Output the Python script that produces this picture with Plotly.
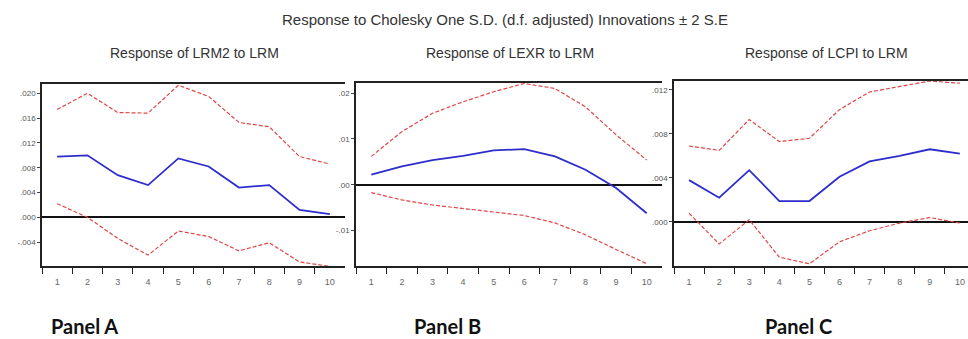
import plotly.graph_objects as go

# Impulse-response horizons
periods = list(range(1, 11))

# Response of LRM2 to LRM
lrm2_resp = [0.0098, 0.0100, 0.0068, 0.0052, 0.0095, 0.0082, 0.0048, 0.0052, 0.0012, 0.0005]
lrm2_upper = [0.0174, 0.0200, 0.0169, 0.0168, 0.0213, 0.0195, 0.0153, 0.0146, 0.0098, 0.0086]
lrm2_lower = [0.0022, 0.0000, -0.0034, -0.0061, -0.0022, -0.0031, -0.0054, -0.0041, -0.0072, -0.0079]

# Response of LEXR to LRM
lexr_resp = [0.0022, 0.0040, 0.0054, 0.0063, 0.0075, 0.0078, 0.0062, 0.0033, -0.0007, -0.0062]
lexr_upper = [0.0062, 0.0116, 0.0156, 0.0181, 0.0203, 0.0221, 0.0210, 0.0170, 0.0109, 0.0054]
lexr_lower = [-0.0017, -0.0033, -0.0044, -0.0052, -0.0060, -0.0067, -0.0083, -0.0109, -0.0141, -0.0172]

# Response of LCPI to LRM
lcpi_resp = [0.0038, 0.0022, 0.0047, 0.0019, 0.0019, 0.0041, 0.0055, 0.0060, 0.0066, 0.0062]
lcpi_upper = [0.0069, 0.0065, 0.0093, 0.0073, 0.0076, 0.0102, 0.0118, 0.0123, 0.0128, 0.0126]
lcpi_lower = [0.0008, -0.0020, 0.0002, -0.0032, -0.0038, -0.0018, -0.0008, -0.0001, 0.0004, -0.0001]

# Y tick values and labels per panel
ticks_a = [-0.004, 0.0, 0.004, 0.008, 0.012, 0.016, 0.020]
labels_a = ["-.004", ".000", ".004", ".008", ".012", ".016", ".020"]
ticks_b = [-0.01, 0.0, 0.01, 0.02]
labels_b = ["-.01", ".00", ".01", ".02"]
ticks_c = [0.0, 0.004, 0.008, 0.012]
labels_c = [".000", ".004", ".008", ".012"]

subtitles = ["Response of LRM2 to LRM", "Response of LEXR to LRM", "Response of LCPI to LRM"]
panel_names = ["Panel A", "Panel B", "Panel C"]

W, H = 968, 339
BLUE = "rgb(45,45,205)"
RED = "rgb(225,70,70)"

panels = [
    dict(resp=lrm2_resp, up=lrm2_upper, lo=lrm2_lower, tv=ticks_a, tt=labels_a,
         px=(42, 345), py=(84, 266), xr=[0.5, 10.5], yr=[-0.00785, 0.0215]),
    dict(resp=lexr_resp, up=lexr_upper, lo=lexr_lower, tv=ticks_b, tt=labels_b,
         px=(356, 662), py=(83, 266), xr=[0.5, 10.5], yr=[-0.0177, 0.0222]),
    dict(resp=lcpi_resp, up=lcpi_upper, lo=lcpi_lower, tv=ticks_c, tt=labels_c,
         px=(674, 968), py=(81, 266), xr=[0.5, 10.27], yr=[-0.0040, 0.0128]),
]

fig = go.Figure()
layout = {}
for i, p in enumerate(panels):
    n = "" if i == 0 else str(i + 1)
    xa, ya = "x" + n, "y" + n
    for vals, color, dash, width in [(p["up"], RED, "4px,2px", 1.2),
                                     (p["lo"], RED, "4px,2px", 1.2),
                                     (p["resp"], BLUE, "solid", 1.8)]:
        fig.add_trace(go.Scatter(x=periods, y=vals, mode="lines", xaxis=xa, yaxis=ya,
                                 line=dict(color=color, width=width, dash=dash),
                                 showlegend=False, hoverinfo="skip", cliponaxis=True))
    layout["xaxis" + n] = dict(
        domain=[p["px"][0] / W, p["px"][1] / W], anchor=ya, range=p["xr"],
        tickmode="array", tickvals=periods, ticktext=[str(v) for v in periods],
        ticks="", ticklabelstandoff=6,
        minor=dict(tickmode="array", tickvals=[v + 0.5 for v in periods[:-1]] + [0.5],
                   ticks="outside", ticklen=6, tickcolor="#222", tickwidth=1.3),
        showline=True, mirror=True, linecolor="#222", linewidth=1.5,
        showgrid=False, zeroline=False,
        tickfont=dict(family="Liberation Sans", size=9, color="#666"),
    )
    # left frame edge only; each panel's right edge sits under the next panel
    layout["yaxis" + n] = dict(
        domain=[1 - p["py"][1] / H, 1 - p["py"][0] / H], anchor=xa, range=p["yr"],
        tickmode="array", tickvals=p["tv"], ticktext=p["tt"],
        ticks="outside", ticklen=3, tickcolor="#444",
        showline=True, mirror=False, linecolor="#222", linewidth=1.5,
        showgrid=False, zeroline=True, zerolinecolor="#111", zerolinewidth=1.5,
        tickfont=dict(family="Liberation Sans", size=8, color="#555"),
    )

annotations = [dict(text="Response to Cholesky One S.D. (d.f. adjusted) Innovations ± 2 S.E",
                    x=505 / W, y=1 - 19 / H, xref="paper", yref="paper", showarrow=False,
                    xanchor="center", yanchor="middle",
                    font=dict(family="Liberation Sans", size=15, color="#333"))]
for cx, txt in zip([194, 510, 826], subtitles):
    annotations.append(dict(text=txt, x=cx / W, y=1 - 53 / H, xref="paper", yref="paper",
                            showarrow=False, xanchor="center", yanchor="middle",
                            font=dict(family="Liberation Sans", size=14, color="#333")))
for lx, txt in zip([49, 412, 763], panel_names):
    annotations.append(dict(text="<b>" + txt + "</b>", x=lx / W, y=1 - 326 / H,
                            xref="paper", yref="paper", showarrow=False,
                            xanchor="left", yanchor="middle",
                            font=dict(family="Lato", size=20, color="#111")))

fig.update_layout(width=W, height=H, margin=dict(l=0, r=0, t=0, b=0),
                  paper_bgcolor="white", plot_bgcolor="white",
                  annotations=annotations, **layout)
fig.write_html("out.html")
